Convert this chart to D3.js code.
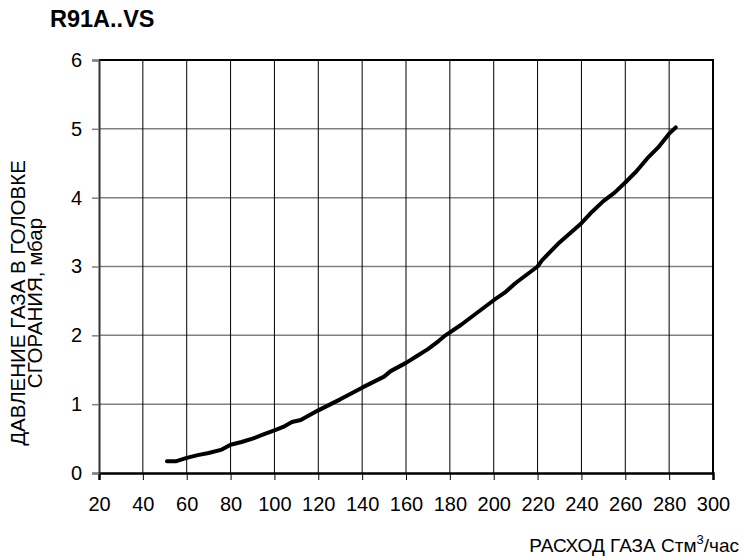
<!DOCTYPE html>
<html>
<head>
<meta charset="utf-8">
<script src="https://cdn.jsdelivr.net/npm/d3@7"></script>
<style>
  html, body { margin: 0; padding: 0; background: #fff; }
  svg { display: block; }
  text { font-family: "Liberation Sans", Arial, sans-serif; fill: #000; }
</style>
</head>
<body>
<svg id="chart" width="742" height="559"></svg>
<script>
const title = "R91A..VS";
const xTicks = [20, 40, 60, 80, 100, 120, 140, 160, 180, 200, 220, 240, 260, 280, 300];
const yTicks = [0, 1, 2, 3, 4, 5, 6];
const flow = [51, 55, 60, 65, 70, 76, 80, 85, 90, 95, 100, 104, 108, 112, 120, 125, 130, 140, 150, 153, 160, 165, 170, 175, 178, 185, 190, 200, 205, 210, 220, 222, 230, 240, 245, 250, 255, 260, 265, 270, 275, 280, 283];
const pressure = [0.17, 0.17, 0.22, 0.26, 0.29, 0.34, 0.41, 0.45, 0.5, 0.56, 0.62, 0.67, 0.74, 0.77, 0.91, 0.99, 1.07, 1.24, 1.4, 1.48, 1.6, 1.7, 1.8, 1.92, 2.0, 2.15, 2.27, 2.51, 2.62, 2.76, 3.0, 3.09, 3.35, 3.63, 3.8, 3.95, 4.07, 4.22, 4.38, 4.57, 4.73, 4.93, 5.02];
const yLabelLines = ["ДАВЛЕНИЕ ГАЗА В ГОЛОВКЕ", "СГОРАНИЯ, мбар"];

const svg = d3.select("#chart");
const L = 99, R = 713, T = 60, B = 473;
const x = d3.scaleLinear().domain([20, 300]).range([L, R]);
const y = d3.scaleLinear().domain([0, 6]).range([B, T]);

// horizontal gridlines (gray)
svg.append("g").selectAll("line").data(yTicks.slice(1, -1)).join("line")
  .attr("x1", L).attr("x2", R).attr("y1", d => y(d)).attr("y2", d => y(d))
  .attr("stroke", "#808080").attr("stroke-width", 1.5);
// vertical gridlines (black)
svg.append("g").selectAll("line").data(xTicks.slice(1, -1)).join("line")
  .attr("x1", d => x(d)).attr("x2", d => x(d)).attr("y1", T).attr("y2", B)
  .attr("stroke", "#000").attr("stroke-width", 1);

// borders
svg.append("line").attr("x1", L).attr("x2", R + 1).attr("y1", T).attr("y2", T).attr("stroke", "#000").attr("stroke-width", 2);
svg.append("line").attr("x1", R).attr("x2", R).attr("y1", T).attr("y2", B).attr("stroke", "#000").attr("stroke-width", 2);

// x axis
const xAxis = svg.append("g").attr("transform", `translate(0,${B})`)
  .call(d3.axisBottom(x).tickValues(xTicks).tickSize(7).tickPadding(17).tickFormat(d3.format("d")));
xAxis.select(".domain").attr("stroke", "#000").attr("stroke-width", 2.5);
xAxis.selectAll(".tick line").attr("stroke", "#000");
xAxis.selectAll("text").attr("font-size", 20).attr("font-family", "Liberation Sans, Arial, sans-serif").attr("fill", "#000");

// y axis
const yAxis = svg.append("g").attr("transform", `translate(${L},0)`)
  .call(d3.axisLeft(y).tickValues(yTicks).tickSize(7).tickPadding(10).tickFormat(d3.format("d")));
yAxis.select(".domain").attr("stroke", "#333").attr("stroke-width", 2);
yAxis.selectAll(".tick line").attr("stroke", "#808080").attr("stroke-width", 1.5);
yAxis.selectAll("text").attr("font-size", 20).attr("font-family", "Liberation Sans, Arial, sans-serif").attr("fill", "#000");

// curve
const pts = flow.map((f, i) => [f, pressure[i]]);
svg.append("path").datum(pts)
  .attr("fill", "none").attr("stroke", "#000").attr("stroke-width", 4)
  .attr("stroke-linejoin", "round").attr("stroke-linecap", "round")
  .attr("d", d3.line().x(d => x(d[0])).y(d => y(d[1])));

// title
svg.append("text").attr("x", 50).attr("y", 27).attr("font-size", 23.5).attr("font-weight", "bold").text(title);

// y label
const yl = svg.append("text").attr("transform", "translate(0,303) rotate(-90)").attr("text-anchor", "middle").attr("font-size", 20.5);
yl.append("tspan").attr("x", 0).attr("y", 25).text(yLabelLines[0]);
yl.append("tspan").attr("x", 0).attr("y", 42).text(yLabelLines[1]);

// x label
const xl = svg.append("text").attr("x", 739).attr("y", 552).attr("text-anchor", "end").attr("font-size", 19);
xl.append("tspan").text("РАСХОД ГАЗА Стм");
xl.append("tspan").attr("font-size", 13).attr("dy", -8).text("3");
xl.append("tspan").attr("dy", 8).text("/час");
</script>
</body>
</html>
